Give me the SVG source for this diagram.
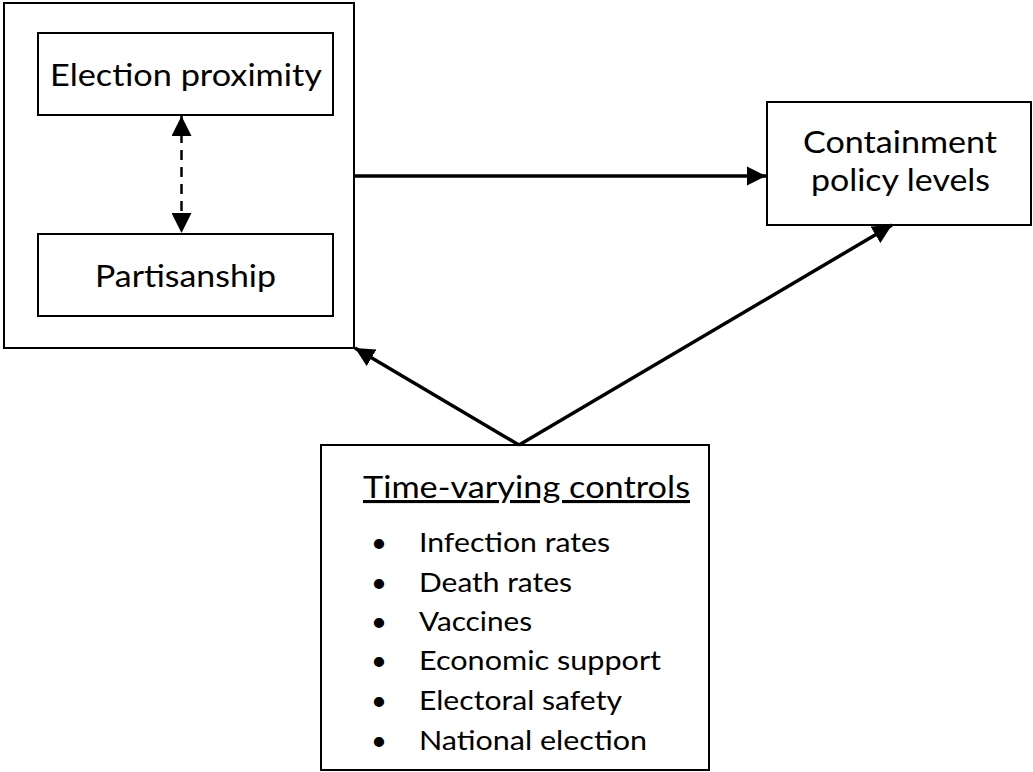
<svg xmlns="http://www.w3.org/2000/svg" width="1033" height="772" viewBox="0 0 1033 772">
<style>
.box{fill:#fff;stroke:#000;stroke-width:2}
.t{font-family:Lato,"Open Sans",sans-serif;font-size:31px;fill:#000}
.l{font-family:Lato,"Open Sans",sans-serif;font-size:27.5px;fill:#000}
.c{stroke:#000;stroke-width:3.5;fill:none}
</style>
<defs>
<marker id="ah" viewBox="0 0 10 10" refX="10" refY="5" markerWidth="5.5" markerHeight="5.5" orient="auto-start-reverse" markerUnits="strokeWidth">
<path d="M0,0 L10,5 L0,10 Z" fill="#000"/>
</marker>
<marker id="ah2" viewBox="0 0 10 10" refX="10" refY="5" markerWidth="8" markerHeight="8" orient="auto-start-reverse" markerUnits="strokeWidth">
<path d="M0,0 L10,5 L0,10 Z" fill="#000"/>
</marker>
</defs>
<rect width="1033" height="772" fill="#fff"/>
<g id="outer"><rect class="box" x="4" y="3" width="350" height="345"/></g>
<g id="election"><rect class="box" x="38" y="33" width="295" height="82"/><text class="t" x="50" y="86" textLength="272" lengthAdjust="spacingAndGlyphs">Election proximity</text></g>
<g id="partisanship"><rect class="box" x="38" y="234" width="295" height="82"/><text class="t" x="95" y="287" textLength="181" lengthAdjust="spacingAndGlyphs">Partisanship</text></g>
<g id="containment"><rect class="box" x="767" y="102" width="264" height="123"/><text class="t" x="803" y="153" textLength="194" lengthAdjust="spacingAndGlyphs">Containment</text><text class="t" x="811" y="191" textLength="179" lengthAdjust="spacingAndGlyphs">policy levels</text></g>
<g id="controls"><rect class="box" x="321" y="445" width="388" height="325"/>
<text class="t" x="363" y="498" textLength="327" lengthAdjust="spacingAndGlyphs" text-decoration="underline">Time-varying controls</text>
<text class="l" x="371" y="552">•</text><text class="l" x="419" y="552" textLength="191" lengthAdjust="spacingAndGlyphs">Infection rates</text>
<text class="l" x="371" y="592">•</text><text class="l" x="419" y="592" textLength="153" lengthAdjust="spacingAndGlyphs">Death rates</text>
<text class="l" x="371" y="631">•</text><text class="l" x="419" y="631" textLength="113" lengthAdjust="spacingAndGlyphs">Vaccines</text>
<text class="l" x="371" y="670">•</text><text class="l" x="419" y="670" textLength="242" lengthAdjust="spacingAndGlyphs">Economic support</text>
<text class="l" x="371" y="710">•</text><text class="l" x="419" y="710" textLength="203" lengthAdjust="spacingAndGlyphs">Electoral safety</text>
<text class="l" x="371" y="750">•</text><text class="l" x="419" y="750" textLength="228" lengthAdjust="spacingAndGlyphs">National election</text>
</g>
<g id="connectors">
<line x1="181.5" y1="116" x2="181.5" y2="233" stroke="#000" stroke-width="2.5" stroke-dasharray="10,7" marker-start="url(#ah2)" marker-end="url(#ah2)"/>
<line class="c" x1="354" y1="176" x2="766" y2="176" marker-end="url(#ah)"/>
<line class="c" x1="519" y1="445" x2="355" y2="348" marker-end="url(#ah)"/>
<line class="c" x1="519" y1="445" x2="892" y2="225" marker-end="url(#ah)"/>
</g>
</svg>
